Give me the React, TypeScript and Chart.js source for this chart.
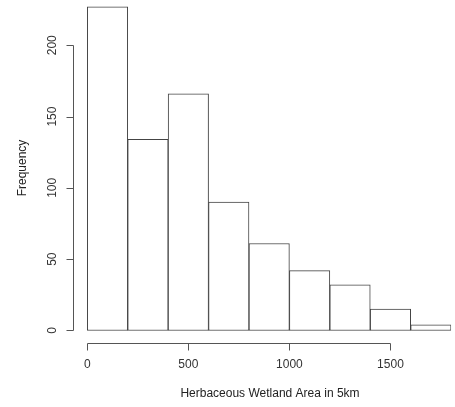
import React, { useEffect, useRef } from "react";
import { Chart, registerables } from "chart.js";

Chart.register(...registerables);

const binStarts = [0, 200, 400, 600, 800, 1000, 1200, 1400, 1600];
const binWidth = 200;
const frequencies = [227, 134, 166, 90, 61, 42, 32, 15, 4];
const xTicks = [0, 500, 1000, 1500];
const yTicks = [0, 50, 100, 150, 200];
const xTitle = "Herbaceous Wetland Area in 5km";
const yTitle = "Frequency";

const FONT = "12px 'Liberation Sans', Arial, Helvetica, sans-serif";
const AXIS_COLOR = "#555555";

const rAxesPlugin = {
  id: "rAxes",
  afterDraw(chart: any) {
    const { ctx, chartArea, scales } = chart;
    const xs = scales.x;
    const ys = scales.y;
    ctx.save();
    ctx.strokeStyle = AXIS_COLOR;
    ctx.fillStyle = "#333333";
    ctx.lineWidth = 1;
    ctx.font = FONT;

    // x axis
    const yAxis = Math.round(chartArea.bottom) + 0.5;
    const x0 = Math.round(xs.getPixelForValue(xTicks[0])) + 0.5;
    const x1 = Math.round(xs.getPixelForValue(xTicks[xTicks.length - 1])) + 0.5;
    ctx.beginPath();
    ctx.moveTo(x0, yAxis);
    ctx.lineTo(x1, yAxis);
    xTicks.forEach((t) => {
      const px = Math.round(xs.getPixelForValue(t)) + 0.5;
      ctx.moveTo(px, yAxis);
      ctx.lineTo(px, yAxis + 7);
    });
    ctx.stroke();
    ctx.textAlign = "center";
    ctx.textBaseline = "middle";
    xTicks.forEach((t) => {
      const px = xs.getPixelForValue(t);
      ctx.fillText(String(t), px, yAxis + 21);
    });

    // y axis
    const xAxis = Math.round(chartArea.left) + 0.5;
    const y0 = Math.round(ys.getPixelForValue(yTicks[0])) + 0.5;
    const y1 = Math.round(ys.getPixelForValue(yTicks[yTicks.length - 1])) + 0.5;
    ctx.beginPath();
    ctx.moveTo(xAxis, y0);
    ctx.lineTo(xAxis, y1);
    yTicks.forEach((t) => {
      const py = Math.round(ys.getPixelForValue(t)) + 0.5;
      ctx.moveTo(xAxis, py);
      ctx.lineTo(xAxis - 7, py);
    });
    ctx.stroke();
    yTicks.forEach((t) => {
      const py = ys.getPixelForValue(t);
      ctx.save();
      ctx.translate(xAxis - 21, py);
      ctx.rotate(-Math.PI / 2);
      ctx.fillText(String(t), 0, 0);
      ctx.restore();
    });

    // titles
    ctx.fillStyle = "#222222";
    ctx.fillText(xTitle, 270, 394);
    ctx.save();
    ctx.translate(23, 168);
    ctx.rotate(-Math.PI / 2);
    ctx.fillText(yTitle, 0, 0);
    ctx.restore();
    ctx.restore();
  },
};

export default function App() {
  const canvasRef = useRef<HTMLCanvasElement | null>(null);

  useEffect(() => {
    document.body.style.margin = "0";
    const canvas = canvasRef.current;
    if (!canvas) return;
    const data = binStarts.map((s, i) => ({ x: s + binWidth / 2, y: frequencies[i] }));
    const chart = new Chart(canvas, {
      type: "bar",
      data: {
        datasets: [
          {
            data: data as any,
            backgroundColor: "#ffffff",
            borderColor: "#444444",
            borderWidth: 1,
            borderSkipped: false,
            barPercentage: 1,
            categoryPercentage: 1,
          },
        ],
      },
      options: {
        animation: false,
        responsive: false,
        maintainAspectRatio: false,
        devicePixelRatio: 1,
        layout: {
          padding: { left: 72.75, right: 3.9, top: 5.3, bottom: 63.7 },
        },
        plugins: {
          legend: { display: false },
          tooltip: { enabled: false },
          title: { display: false },
        },
        scales: {
          x: { type: "linear", min: -72, max: 1800, display: false, offset: false },
          y: { type: "linear", min: -9, max: 228, display: false },
        },
      },
      plugins: [rAxesPlugin],
    });
    return () => chart.destroy();
  }, []);

  return (
    <div style={{ position: "absolute", left: 0, top: 0, width: 455, height: 407, background: "#ffffff" }}>
      <canvas ref={canvasRef} width={455} height={407} style={{ width: 455, height: 407 }} />
    </div>
  );
}
